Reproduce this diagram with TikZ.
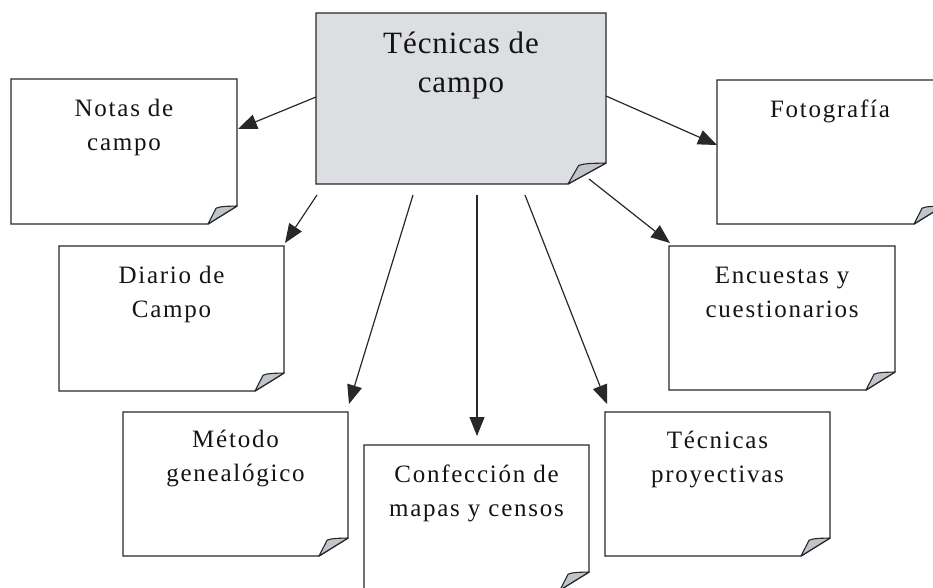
\documentclass[tikz,border=0pt]{standalone}
\usepackage{fontspec}
\setmainfont{Liberation Serif}
\newfontfamily\boxfont[LetterSpace=7]{Liberation Serif}
\newfontfamily\centerfont[LetterSpace=3]{Liberation Serif}
\usetikzlibrary{arrows.meta,calc}
\definecolor{boxline}{RGB}{40,40,40}
\definecolor{txtcol}{RGB}{20,20,20}
\definecolor{centerfill}{RGB}{220,222,226}
\definecolor{flapfill}{RGB}{192,197,204}
\tikzset{
  border/.style={draw=boxline, line width=1.4pt, line join=miter},
  arr/.style={draw=boxline, line width=1.2pt, -{Triangle[length=19pt,width=15pt]}},
  boxtxt/.style={text=txtcol, align=center, inner sep=0pt, anchor=base,
    font=\boxfont\fontsize{25}{34}\selectfont},
  centertxt/.style={text=txtcol, align=center, inner sep=0pt, anchor=base,
    font=\centerfont\fontsize{31}{39}\selectfont},
}
% #1 name, #2 left, #3 top, #4 right, #5 bottom, #6 fill, #7 fold width, #8 fold height
\newcommand{\notebox}[8]{%
  \node[inner sep=0pt, outer sep=0pt, minimum width={(#4-#2)*1pt}, minimum height={(#5-#3)*1pt}]
    (#1) at ({(#2+#4)/2},{(#3+#5)/2}) {};
  \draw[border, fill=#6] (#1.north west) -- (#1.north east)
    -- ($(#1.south east)+(0,-#8)$) -- ($(#1.south east)+(-#7,0)$)
    -- (#1.south west) -- cycle;
  \draw[draw=boxline, line width=1.1pt, line join=round, fill=flapfill]
    ($(#1.south east)+(-#7,0)$) -- ($(#1.south east)+({-0.72*#7},{-0.88*#8})$)
    .. controls ($(#1.south east)+({-0.55*#7},{-1.0*#8})$) and ($(#1.south east)+({-0.3*#7},{-0.98*#8})$)
    .. ($(#1.south east)+(0,-#8)$) -- cycle;
}
\begin{document}
\begin{tikzpicture}[x=1pt,y=-1pt]
\useasboundingbox (0,0) rectangle (933,587);
\clip (0,0) rectangle (933,587);

\notebox{c}{316}{13}{606}{184}{centerfill}{38}{21}
\notebox{notasbox}{11}{79}{237}{224}{white}{29}{18}
\notebox{diariobox}{59}{246}{284}{391}{white}{29}{18}
\notebox{metodobox}{123}{412}{348}{556}{white}{29}{18}
\notebox{confbox}{364}{445}{589}{590}{white}{29}{18}
\notebox{proybox}{605}{412}{830}{556}{white}{29}{18}
\notebox{encbox}{669}{246}{895}{390}{white}{29}{18}
\notebox{fotobox}{717}{80}{943}{224}{white}{29}{18}

% base anchor = baseline of the last line
\node[centertxt] (ctext) at (461,92) {Técnicas de\\campo};
\node[boxtxt] (notas) at (124,150) {Notas de\\campo};
\node[boxtxt] (diario) at (171.5,317) {Diario de\\Campo};
\node[boxtxt] (metodo) at (235.5,481) {Método\\genealógico};
\node[boxtxt] (conf) at (476.5,516) {Confección de\\mapas y censos};
\node[boxtxt] (proy) at (717.5,482) {Técnicas\\proyectivas};
\node[boxtxt] (enc) at (782,317) {Encuestas y\\cuestionarios};
\node[boxtxt] (foto) at (830,117) {Fotografía};

\draw[arr] ($(c.north west)+(0,84)$) -- ($(notasbox.north east)+(1,50)$);
\draw[arr] ($(c.south west)+(1,11)$) -- ($(diariobox.north east)+(1,-3)$);
\draw[arr] ($(c.south west)+(97,11)$) -- ($(metodobox.north east)+(1,-8)$);
\draw[arr] ($(c.south)+(16,11)$) -- ($(confbox.north)+(0.5,-9)$);
\draw[arr] ($(c.south)+(64,11)$) -- ($(proybox.north west)+(2,-8)$);
\draw[arr] ($(c.south east)+(-17,-5)$) -- ($(encbox.north west)+(1,-3)$);
\draw[arr] ($(c.north east)+(0,83)$) -- ($(fotobox.north west)+(0,65)$);
\end{tikzpicture}
\end{document}
